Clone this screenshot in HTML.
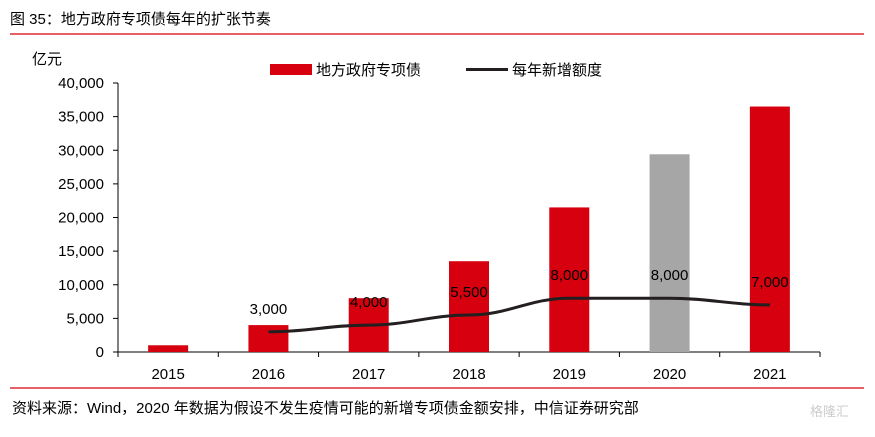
<!DOCTYPE html>
<html><head><meta charset="utf-8"><style>
body{margin:0;background:#fff;}
svg text{font-family:"Liberation Sans","Noto Sans CJK SC",sans-serif;}
</style></head><body>
<svg width="875" height="432" viewBox="0 0 875 432">
<text x="10" y="24" font-size="15" fill="#000">图 35：地方政府专项债每年的扩张节奏</text>
<line x1="10" y1="34" x2="864" y2="34" stroke="#d7000f" stroke-width="1.3"/>
<text x="32" y="64" font-size="15">亿元</text>
<rect x="270" y="64" width="42" height="11" fill="#d7000f"/>
<text x="316" y="75" font-size="15">地方政府专项债</text>
<line x1="466" y1="69.5" x2="508" y2="69.5" stroke="#231f20" stroke-width="3"/>
<text x="512" y="75" font-size="15">每年新增额度</text>
<g id="axes"></g>
<g id="bars"></g>
<g id="line"></g>
<line x1="10" y1="388" x2="864" y2="388" stroke="#d7000f" stroke-width="1.3"/>
<text x="12" y="413" font-size="15">资料来源：Wind，2020 年数据为假设不发生疫情可能的新增专项债金额安排，中信证券研究部</text>
<text x="810" y="416" font-size="13" fill="#ccc">格隆汇</text>
</svg>
<script>
const categories=["2015","2016","2017","2018","2019","2020","2021"];
const bondValues=[1000,4000,8000,13500,21500,29400,36500];
const quotaValues=[null,3000,4000,5500,8000,8000,7000];
const quotaLabels=["","3,000","4,000","5,500","8,000","8,000","7,000"];
const yTicks=[0,5000,10000,15000,20000,25000,30000,35000,40000];
const NS="http://www.w3.org/2000/svg";
const x0=118,x1=820,y0=352,y1=83,yMax=40000;
const band=(x1-x0)/categories.length;
const xc=i=>x0+band*(i+0.5);
const ys=v=>y0-(v/yMax)*(y0-y1);
function mk(tag,attrs,parent){const e=document.createElementNS(NS,tag);for(const k in attrs)e.setAttribute(k,attrs[k]);parent.appendChild(e);return e;}
const axes=document.getElementById('axes'),bars=document.getElementById('bars'),line=document.getElementById('line');
let e=mk('line',{x1:x0,y1:y1,x2:x0,y2:y0,stroke:'#000','stroke-width':1},axes);


e=mk('line',{x1:x0,y1:y0,x2:x1,y2:y0,stroke:'#000','stroke-width':1},axes);


yTicks.forEach(v=>{
 const t=mk('line',{x1:x0-5,y1:ys(v),x2:x0,y2:ys(v),stroke:'#000'},axes);
 
 
 const l=mk('text',{x:x0-14,y:ys(v)+5,'font-size':15,'text-anchor':'end'},axes);
 l.textContent=v.toLocaleString('en-US');
 
 
});
for(let i=0;i<=categories.length;i++){
 const t=mk('line',{x1:x0+band*i,y1:y0,x2:x0+band*i,y2:y0+5,stroke:'#000'},axes);
 
 
}
categories.forEach((c,i)=>{
 const l=mk('text',{x:xc(i),y:y0+27,'font-size':15,'text-anchor':'middle'},axes);
 l.textContent=c;
 
 
 const b=mk('rect',{x:xc(i)-20,y:ys(bondValues[i]),width:40,height:y0-ys(bondValues[i]),fill:c==="2020"?'#a6a6a6':'#d7000f'},bars);
 
 
});
let pts=[];
quotaValues.forEach((v,i)=>{if(v!==null)pts.push([xc(i),ys(v)]);});
let d='M'+pts[0][0]+','+pts[0][1];
for(let i=1;i<pts.length;i++){const p=pts[i-1],q=pts[i],m=(q[0]-p[0])/2;d+=` C${p[0]+m*0.8},${p[1]} ${q[0]-m*0.8},${q[1]} ${q[0]},${q[1]}`;}
e=mk('path',{d:d,fill:'none',stroke:'#231f20','stroke-width':3},line);


quotaValues.forEach((v,i)=>{
 if(v===null)return;
 const l=mk('text',{x:xc(i),y:ys(v)-18,'font-size':15,'text-anchor':'middle'},line);
 l.textContent=quotaLabels[i];
 
 
});
</script>
</body></html>
